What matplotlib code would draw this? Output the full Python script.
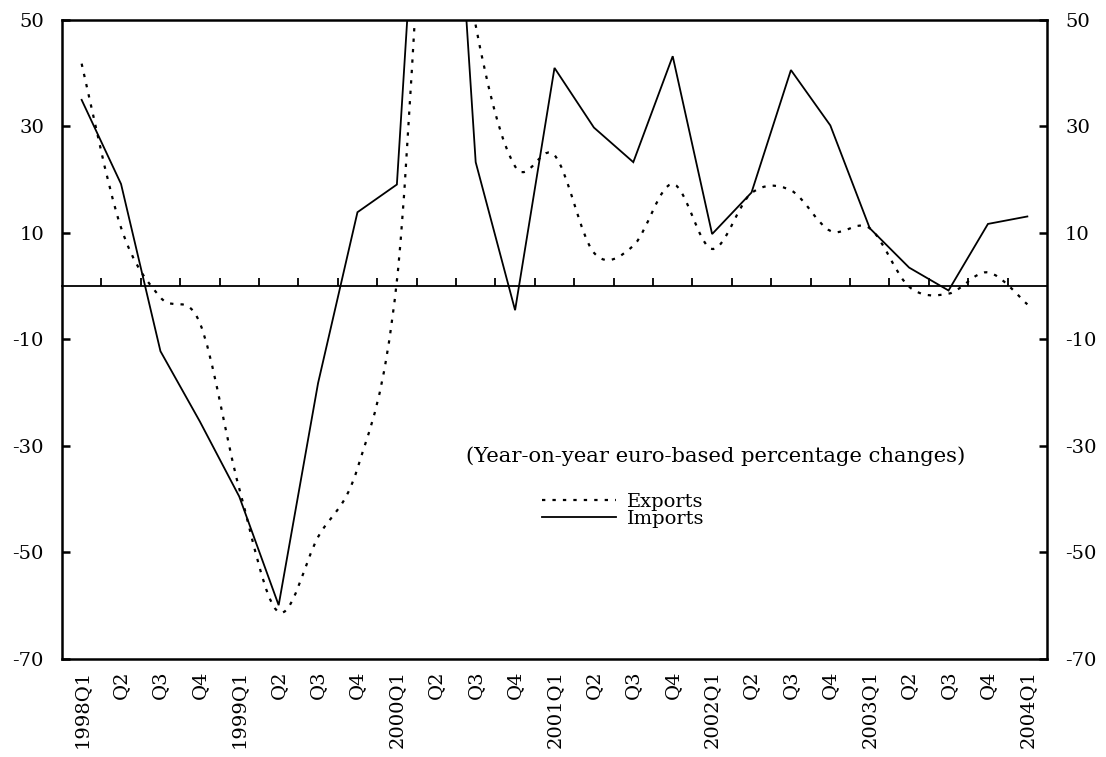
import numpy as np
import matplotlib.pyplot as plt
from matplotlib.path import Path
from matplotlib.patches import PathPatch
from matplotlib.lines import Line2D

plt.rcParams['font.family'] = ['DejaVu Serif']

# data (year-on-year %, euro based)
quarters = ['1998Q1', 'Q2', 'Q3', 'Q4', '1999Q1', 'Q2', 'Q3', 'Q4',
            '2000Q1', 'Q2', 'Q3', 'Q4', '2001Q1', 'Q2', 'Q3', 'Q4',
            '2002Q1', 'Q2', 'Q3', 'Q4', '2003Q1', 'Q2', 'Q3', 'Q4', '2004Q1']
exports = [41.8, 11.0, -2.1, -6.9, -38.0, -61.2, -47.1, -34.2,
           1.0, 100.0, 49.0, 22.5, 24.6, 6.3, 7.6, 19.2,
           7.0, 17.5, 18.0, 10.4, 10.9, -0.1, -1.4, 2.6, -3.4]
imports = [35.0, 19.2, -12.2, -25.4, -39.5, -59.9, -18.2, 13.9,
           19.1, 137.0, 23.3, -4.5, 41.0, 29.8, 23.3, 43.2,
           9.8, 17.6, 40.6, 30.2, 10.9, 3.5, -0.8, 11.7, 13.1]
yticks = [-70, -50, -30, -10, 10, 30, 50]


def smooth_path(x, y):
    # excel style smoothed line: bezier segments through every point
    x = np.asarray(x, float)
    y = np.asarray(y, float)
    xp = np.r_[x[0], x, x[-1]]
    yp = np.r_[y[0], y, y[-1]]
    verts = [(x[0], y[0])]
    codes = [Path.MOVETO]
    for i in range(len(x) - 1):
        c1 = (x[i] + (xp[i + 2] - xp[i]) / 6, y[i] + (yp[i + 2] - yp[i]) / 6)
        c2 = (x[i + 1] - (xp[i + 3] - xp[i + 1]) / 6, y[i + 1] - (yp[i + 3] - yp[i + 1]) / 6)
        verts += [c1, c2, (x[i + 1], y[i + 1])]
        codes += [Path.CURVE4] * 3
    return Path(verts, codes)


x = np.arange(len(quarters))
dots = (0, (1.5, 3.2))

fig = plt.figure(figsize=(11.06, 7.57), dpi=100)
ax = fig.add_axes([0.056, 0.1295, 0.8907, 0.8441])

ax.plot(x, imports, color='black', lw=1.3, solid_joinstyle='miter')
ax.add_patch(PathPatch(smooth_path(x, exports), facecolor='none',
                       edgecolor='black', lw=1.6, linestyle=dots))

ax.set_xlim(-0.5, len(quarters) - 0.5)
ax.set_ylim(-70, 50)

# zero line with category ticks
ymin, ymax = ax.get_ylim()
sec = ax.secondary_xaxis((0 - ymin) / (ymax - ymin))
sec.set_xticks(np.arange(0.5, len(quarters) - 1, 1))
sec.tick_params(direction='out', length=6, width=1.3, labeltop=False,
                labelbottom=False)
for s in sec.spines.values():
    s.set_linewidth(1.3)

ax.set_xticks(x)
ax.set_xticklabels(quarters, rotation=90, fontsize=14)
ax.tick_params(axis='x', length=0, pad=8)
ax.set_yticks(yticks)
ax.set_yticklabels([str(v) for v in yticks], fontsize=14)
ax.tick_params(axis='y', direction='in', length=6, width=1.8, pad=13,
               left=True, right=True, labelleft=True, labelright=True)
for s in ax.spines.values():
    s.set_linewidth(1.8)

ax.text(16.1, -32, '(Year-on-year euro-based percentage changes)',
        fontsize=15.2, ha='center', va='center')

handles = [Line2D([], [], color='black', lw=1.6, linestyle=dots),
           Line2D([], [], color='black', lw=1.3)]
ax.legend(handles, ['Exports', 'Imports'], loc='center left',
          bbox_to_anchor=(0.487, 0.232), frameon=False, fontsize=14,
          handlelength=3.8, handletextpad=0.6, labelspacing=-0.05,
          borderpad=0, borderaxespad=0)

fig.savefig('out.png', dpi=100)
